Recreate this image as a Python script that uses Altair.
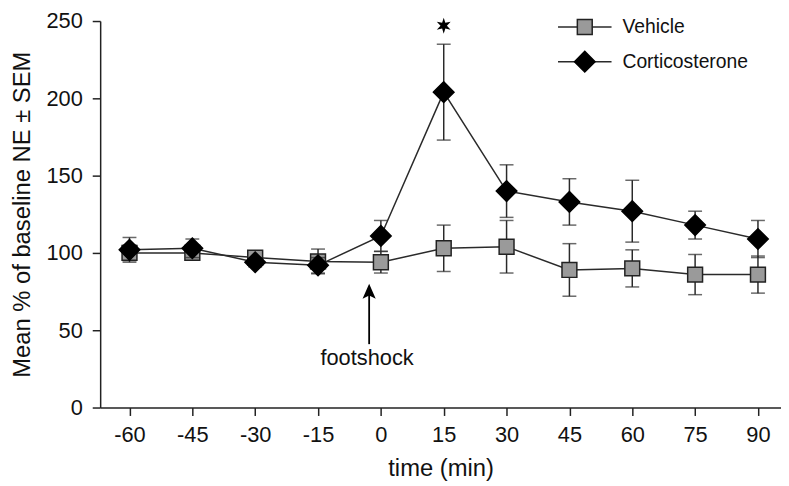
import altair as alt
import pandas as pd

# ---- data ----
times = [-60, -45, -30, -15, 0, 15, 30, 45, 60, 75, 90]
vehicle_mean = [100, 100, 97, 94.5, 94, 103, 104, 89, 90, 86, 86]
vehicle_sem = [5, 4, 3, 8, 7, 15, 17, 17, 12, 13, 12]
cort_mean = [102, 103, 94, 92, 111, 204, 140, 133, 127, 118, 109]
cort_sem = [8, 6, 3, 5, 10, 31, 17, 15, 20, 9, 12]
series_names = ["Vehicle", "Corticosterone"]

y_ticks = [0, 50, 100, 150, 200, 250]

star_time, star_value = 15, 247
shock_time = -2.8
shock_arrow_from, shock_arrow_to = 41, 73.5
shock_label_time, shock_label_value = -3.3, 27.5


def frame(name, mean, sem):
    return pd.DataFrame({
        "time": times,
        "mean": mean,
        "lo": [m - s for m, s in zip(mean, sem)],
        "hi": [m + s for m, s in zip(mean, sem)],
        "series": name,
    })


veh = frame(series_names[0], vehicle_mean, vehicle_sem)
cort = frame(series_names[1], cort_mean, cort_sem)

FONT = "Liberation Sans"
LINE_COLOR = "#2a2a2a"

xscale = alt.Scale(domain=[-67, 95.5], nice=False, zero=False)
yscale = alt.Scale(domain=[0, 250], nice=False, zero=False)

x_axis = alt.Axis(values=times, title="time (min)", labelFontSize=22, titleFontSize=24,
                  titleFontWeight="normal", tickSize=8, labelPadding=9, titlePadding=12,
                  grid=False, domainColor="#222", tickColor="#222", labelColor="#111",
                  titleColor="#111", domainWidth=1.5, tickWidth=1.5, labelFlush=False,
                  labelExpr="'' + datum.value")
y_axis = alt.Axis(values=y_ticks, title="Mean % of baseline NE ± SEM", labelFontSize=22,
                  titleFontSize=24, titleFontWeight="normal", tickSize=8, labelPadding=10,
                  titlePadding=12, grid=False, domainColor="#222", tickColor="#222",
                  labelColor="#111", titleColor="#111", domainWidth=1.5, tickWidth=1.5)


def X(field):
    return alt.X(field, scale=xscale, axis=x_axis, title="time (min)")


def Y(field):
    return alt.Y(field, scale=yscale, axis=y_axis, title="Mean % of baseline NE ± SEM")


def XD(v):
    return alt.X(datum=v, scale=xscale, axis=x_axis, title="time (min)")


def YD(v):
    return alt.Y(datum=v, scale=yscale, axis=y_axis, title="Mean % of baseline NE ± SEM")


def series_layers(df, shape, fill, size, stroke):
    line = alt.Chart(df).mark_line(color=LINE_COLOR, strokeWidth=1.5).encode(
        x=X("time:Q"), y=Y("mean:Q"))
    err = alt.Chart(df).mark_rule(color=LINE_COLOR, strokeWidth=1.5).encode(
        x=X("time:Q"), y=Y("lo:Q"), y2="hi:Q")
    cap_lo = alt.Chart(df).mark_tick(color=LINE_COLOR, thickness=1.5, size=14,
                                     orient="horizontal").encode(
        x=X("time:Q"), y=Y("lo:Q"))
    cap_hi = alt.Chart(df).mark_tick(color=LINE_COLOR, thickness=1.5, size=14,
                                     orient="horizontal").encode(
        x=X("time:Q"), y=Y("hi:Q"))
    pts = alt.Chart(df).mark_point(shape=shape, filled=True, fill=fill, size=size,
                                   stroke=stroke, strokeWidth=1.5, opacity=1).encode(
        x=X("time:Q"), y=Y("mean:Q"))
    return [line, err, cap_lo, cap_hi, pts]


one = alt.Data(values=[{}])

star_path = ("M0,-1 L0.2,-0.35 L0.866,-0.5 L0.4,0 L0.866,0.5 L0.2,0.35 L0,1 "
             "L-0.2,0.35 L-0.866,0.5 L-0.4,0 L-0.866,-0.5 L-0.2,-0.35 Z")
arrow_path = "M0,-1 L0.7,0.6 L0,0.25 L-0.7,0.6 Z"

star = alt.Chart(one).mark_point(shape=star_path, filled=True, color="#000", size=260,
                                 opacity=1).encode(x=XD(star_time), y=YD(star_value))

shaft = alt.Chart(one).mark_rule(color="#000", strokeWidth=1.8).encode(
    x=XD(shock_time), y=YD(shock_arrow_from), y2=alt.Y2(datum=shock_arrow_to))
head = alt.Chart(one).mark_point(shape=arrow_path, filled=True, color="#000", size=360,
                                 opacity=1).encode(
    x=XD(shock_time), y=YD(shock_arrow_to + 0.5))
shock_text = alt.Chart(one).mark_text(text="footshock", font=FONT, fontSize=22,
                                      color="#111", align="center",
                                      baseline="alphabetic").encode(
    x=XD(shock_label_time), y=YD(shock_label_value))

# ---- legend (drawn manually, pixel positions inside plot area) ----
leg = []
for ypix, name, shape, fill, size, stroke in [
        (6, series_names[0], "square", "#9a9a9a", 225, "#222"),
        (41, series_names[1], "diamond", "#000", 430, "#000")]:
    leg.append(alt.Chart(one).mark_rule(color=LINE_COLOR, strokeWidth=1.5).encode(
        x=alt.value(462), x2=alt.value(516), y=alt.value(ypix)))
    leg.append(alt.Chart(one).mark_point(shape=shape, filled=True, fill=fill, size=size,
                                         stroke=stroke, strokeWidth=1.5,
                                         opacity=1).encode(
        x=alt.value(489), y=alt.value(ypix)))
    leg.append(alt.Chart(one).mark_text(text=name, font=FONT, fontSize=19.5, color="#111",
                                        align="left", baseline="middle").encode(
        x=alt.value(527), y=alt.value(ypix)))

layers = (series_layers(veh, "square", "#9a9a9a", 225, "#222")
          + series_layers(cort, "diamond", "#000", 430, "#000")
          + [star, shaft, head, shock_text] + leg)

chart = alt.layer(*layers).properties(
    width=687, height=390,
    autosize=alt.AutoSizeParams(type="none"),
    padding={"left": 93, "top": 11, "right": 0, "bottom": 74},
    background="white",
).configure(font=FONT).configure_view(stroke=None)

chart.save("out.html", embed_options={"renderer": "svg", "actions": False})
